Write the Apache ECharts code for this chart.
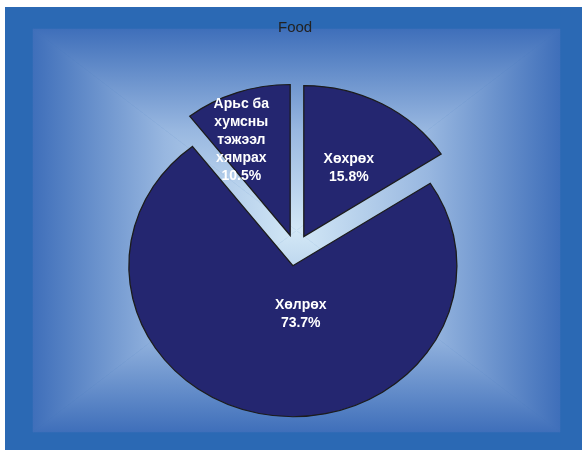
<!DOCTYPE html>
<html>
<head>
<meta charset="utf-8">
<script src="https://cdn.jsdelivr.net/npm/echarts@6/dist/echarts.min.js"></script>
<style>
  html, body { margin: 0; padding: 0; background: #ffffff; }
  #chart { width: 582px; height: 450px; }
</style>
</head>
<body>
<div id="chart"></div>
<script>
// Chart content
const chartTitle = 'Food';
const categories = ['Хөхрөх', 'Хөлрөх', 'Арьс ба хумсны тэжээл хямрах'];
const shares = [15.8, 73.7, 10.5];

// Pie geometry (the pie is drawn slightly wider than tall)
const pieCenter = [295.7, 250.3];
const radiusX = 164;
const radiusY = 151;
const explodeDist = 17;
// Label anchor for each slice: [fraction of radius, angle shift in degrees from the slice middle]
const labelPlace = [[0.53, 2.8], [0.325, -18], [0.70, -6.3]];
// Longest label line, in characters, before a category name wraps
const wrapChars = 7;

const total = shares.reduce((a, b) => a + b, 0);
const starts = shares.map((v, i) => shares.slice(0, i).reduce((a, b) => a + b, 0));

const frame = { x: 5, y: 7, w: 577, h: 443 };
const inner = { x: 33, y: 29, w: 527, h: 403 };

function wrapName(name) {
  const lines = [];
  name.split(' ').forEach(word => {
    const last = lines.length ? lines[lines.length - 1] : null;
    if (last !== null && (last + ' ' + word).length <= wrapChars) {
      lines[lines.length - 1] = last + ' ' + word;
    } else {
      lines.push(word);
    }
  });
  return lines.join('\n');
}

function grad(x0, y0, x1, y1) {
  return {
    type: 'linear', x: x0, y: y0, x2: x1, y2: y1, global: true,
    colorStops: [
      { offset: 0, color: '#3f6fba' },
      { offset: 0.5, color: '#98b7e0' },
      { offset: 1, color: '#d3e8f6' }
    ]
  };
}

function backgroundGraphics() {
  const L = inner.x, T = inner.y, R = inner.x + inner.w, B = inner.y + inner.h;
  const cx = (L + R) / 2, cy = (T + B) / 2;
  const tri = (pts, fill) => ({
    type: 'polygon', shape: { points: pts }, style: { fill: fill, stroke: fill, lineWidth: 0.5 }, silent: true
  });
  return [
    { type: 'rect', shape: { x: frame.x, y: frame.y, width: frame.w, height: frame.h }, style: { fill: '#2b69b4' }, silent: true },
    tri([[L, T], [R, T], [cx, cy]], grad(0, T, 0, cy)),
    tri([[L, B], [R, B], [cx, cy]], grad(0, B, 0, cy)),
    tri([[L, T], [L, B], [cx, cy]], grad(L, 0, cx, 0)),
    tri([[R, T], [R, B], [cx, cy]], grad(R, 0, cx, 0))
  ];
}

function renderSlice(params, api) {
  const i = params.dataIndex;
  const v = api.value(0);
  const a0 = -Math.PI / 2 + 2 * Math.PI * starts[i] / total;
  const a1 = a0 + 2 * Math.PI * v / total;
  const mid = (a0 + a1) / 2;
  const ky = radiusY / radiusX;
  const ox = pieCenter[0] + Math.cos(mid) * explodeDist;
  const oy = pieCenter[1] + Math.sin(mid) * explodeDist * ky;
  const place = labelPlace[i];
  const la = mid + place[1] * Math.PI / 180;
  const lx = ox + Math.cos(la) * radiusX * place[0];
  const ly = oy + Math.sin(la) * radiusY * place[0];
  return {
    type: 'group',
    children: [
      {
        type: 'sector',
        x: ox, y: oy, scaleY: ky,
        shape: { cx: 0, cy: 0, r: radiusX, r0: 0, startAngle: a0, endAngle: a1, clockwise: true },
        style: { fill: '#242670', stroke: '#1c1c1c', lineWidth: 1.3, strokeNoScale: true }
      },
      {
        type: 'text',
        x: lx, y: ly,
        style: {
          text: wrapName(categories[i]) + '\n' + v.toFixed(1) + '%',
          fill: '#ffffff',
          font: 'bold 14px "Liberation Sans", Arial, sans-serif',
          align: 'center',
          verticalAlign: 'middle',
          lineHeight: 18
        }
      }
    ]
  };
}

const chart = echarts.init(document.getElementById('chart'), null, { renderer: 'canvas' });
chart.setOption({
  animation: false,
  backgroundColor: '#ffffff',
  title: {
    text: chartTitle,
    left: 278, top: 20, padding: 0,
    textStyle: { color: '#222222', fontSize: 15, fontWeight: 'normal', fontFamily: '"Liberation Sans", Arial, sans-serif' }
  },
  graphic: { elements: backgroundGraphics() },
  series: [{
    type: 'custom',
    coordinateSystem: 'none',
    renderItem: renderSlice,
    data: shares.map((v, i) => ({ name: categories[i], value: v }))
  }]
});
</script>
</body>
</html>
